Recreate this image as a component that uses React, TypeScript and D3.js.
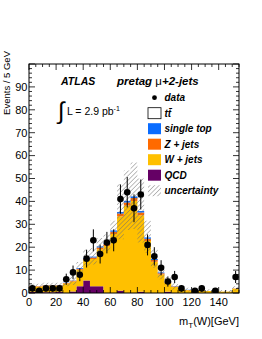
import React, { useEffect, useRef } from "react";
import * as d3 from "d3";

// bin lower edges (5 GeV bins)
const binLow = [
  0, 5, 10, 15, 20, 25, 30, 35, 40, 45, 50, 55, 60, 65, 70, 75, 80, 85, 90, 95,
  100, 105, 110, 115, 120, 125, 130, 135, 140, 145, 150,
];
const dataCounts = [
  2, 1, 2, 2, 2, 6, 9, 8, 15, 23, 17, 22, 23, 41, 44, 37, 43, 21, 16, 11, 5, 7,
  2, 0, 1, 2, 0, 1, 0, 0, 7,
];
const qcd = [
  0.5, 0.5, 0.3, 0.3, 0.5, 0, 0.7, 3, 5.5, 3, 3, 0, 0, 1, 0, 0, 0.5, 0, 0, 0,
  0.5, 0, 0, 0, 0, 0, 0, 0, 0, 0, 0,
];
const wjets = [
  2.2, 2.2, 2.9, 2.9, 2.7, 4.1, 4.3, 7.1, 8.9, 11.8, 16.1, 20.5, 25.8, 32.5,
  38.2, 40.2, 33.4, 22.7, 13.7, 8.1, 3.9, 2.6, 1.7, 1.2, 0.75, 0.85, 0.9, 0.9,
  0.7, 0.7, 1.9,
];
const zjets = [
  0.2, 0.2, 0.2, 0.2, 0.2, 0.3, 0.3, 0.5, 0.6, 0.7, 0.8, 0.9, 1.0, 1.2, 1.3,
  1.3, 1.2, 1.0, 0.7, 0.5, 0.3, 0.2, 0.1, 0.1, 0.1, 0, 0, 0, 0, 0, 0.1,
];
const singleTop = [
  0.1, 0.1, 0.1, 0.1, 0.1, 0.1, 0.2, 0.3, 0.4, 0.4, 0.5, 0.5, 0.6, 0.7, 0.8,
  0.8, 0.7, 0.6, 0.5, 0.3, 0.2, 0.1, 0.1, 0.1, 0.05, 0.05, 0, 0, 0, 0, 0,
];
const ttbar = [
  0, 0, 0, 0, 0, 0, 0, 0.1, 0.1, 0.1, 0.1, 0.1, 0.1, 0.1, 0.2, 0.2, 0.2, 0.2,
  0.1, 0.1, 0.1, 0.1, 0.1, 0.1, 0.1, 0.1, 0.1, 0.1, 0.1, 0.1, 0,
];
const mcUnc = [
  1, 1, 1, 1, 1, 1.5, 2, 2.5, 3.5, 3.5, 3.5, 3.5, 4, 12, 13, 14.5, 14, 7, 4, 3,
  2, 1.5, 1, 0.8, 0.6, 0.6, 0.6, 0.5, 0.5, 0.5, 1,
];

const xTicks = [0, 20, 40, 60, 80, 100, 120, 140];
const yTicks = [0, 10, 20, 30, 40, 50, 60, 70, 80, 90];

const colors: Record<string, string> = {
  qcd: "#650065",
  wjets: "#ffc000",
  zjets: "#ff6a00",
  singleTop: "#0a6cff",
  ttbar: "#ffffff",
};

const W = 262,
  H = 339;
const plot = { left: 29, right: 239, top: 64, bottom: 293 };
const font = "'Liberation Sans', Arial, Helvetica, sans-serif";

export default function App() {
  const ref = useRef<SVGSVGElement>(null);

  useEffect(() => {
    const svg = d3.select(ref.current);
    svg.selectAll("*").remove();

    const x = d3.scaleLinear().domain([0, 155]).range([plot.left, plot.right]);
    const y = d3.scaleLinear().domain([0, 100]).range([plot.bottom, plot.top]);

    const defs = svg.append("defs");
    const pat = defs
      .append("pattern")
      .attr("id", "hatch")
      .attr("patternUnits", "userSpaceOnUse")
      .attr("width", 3.2)
      .attr("height", 3.2)
      .attr("patternTransform", "rotate(45)");
    pat
      .append("line")
      .attr("x1", 0)
      .attr("y1", 0)
      .attr("x2", 0)
      .attr("y2", 3.2)
      .attr("stroke", "#6e6e6e")
      .attr("stroke-width", 0.9);

    defs
      .append("clipPath")
      .attr("id", "frame")
      .append("rect")
      .attr("x", plot.left)
      .attr("y", plot.top)
      .attr("width", plot.right - plot.left)
      .attr("height", plot.bottom - plot.top);

    const rows = binLow.map((b, i) => ({
      b,
      qcd: qcd[i],
      wjets: wjets[i],
      zjets: zjets[i],
      singleTop: singleTop[i],
      ttbar: ttbar[i],
    }));
    // extra point closing the last bin for step curves
    const rowsEnd = [...rows, { ...rows[rows.length - 1], b: 155 }];

    const keys = ["qcd", "wjets", "zjets", "singleTop", "ttbar"];
    const stack = d3.stack<any>().keys(keys)(rowsEnd);

    const g = svg.append("g").attr("clip-path", "url(#frame)");

    const area = d3
      .area<any>()
      .curve(d3.curveStepAfter)
      .x((d) => x(d.data.b))
      .y0((d) => y(d[0]))
      .y1((d) => y(d[1]));

    g.selectAll("path.layer")
      .data(stack)
      .enter()
      .append("path")
      .attr("class", "layer")
      .attr("d", area as any)
      .attr("fill", (d) => colors[d.key]);

    // uncertainty band
    const totals = stack[stack.length - 1].map((d, i) => ({
      b: d.data.b,
      t: d[1],
      u: mcUnc[Math.min(i, mcUnc.length - 1)],
    }));
    g.append("path")
      .attr(
        "d",
        d3
          .area<any>()
          .curve(d3.curveStepAfter)
          .x((d) => x(d.b))
          .y0((d) => y(Math.max(0, d.t - d.u)))
          .y1((d) => y(d.t + d.u))(totals) as string
      )
      .attr("fill", "url(#hatch)");

    // data points
    const pts = binLow
      .map((b, i) => ({ c: b + 2.5, n: dataCounts[i] }))
      .filter((d) => d.n > 0);
    g.selectAll("line.err")
      .data(pts)
      .enter()
      .append("line")
      .attr("x1", (d) => x(d.c))
      .attr("x2", (d) => x(d.c))
      .attr("y1", (d) => y(d.n - Math.sqrt(d.n)))
      .attr("y2", (d) => y(d.n + Math.sqrt(d.n)))
      .attr("stroke", "#000")
      .attr("stroke-width", 1);
    g.selectAll("circle.pt")
      .data(pts)
      .enter()
      .append("circle")
      .attr("cx", (d) => x(d.c))
      .attr("cy", (d) => y(d.n))
      .attr("r", 3.3)
      .attr("fill", "#000");

    // frame
    svg
      .append("rect")
      .attr("x", plot.left)
      .attr("y", plot.top)
      .attr("width", plot.right - plot.left)
      .attr("height", plot.bottom - plot.top)
      .attr("fill", "none")
      .attr("stroke", "#000")
      .attr("stroke-width", 1);

    // ticks on all four sides
    const tg = svg.append("g").attr("stroke", "#000").attr("stroke-width", 0.8);
    d3.range(0, 101, 2).forEach((v) => {
      const len = v % 10 === 0 ? 6 : 3;
      const yy = y(v);
      tg.append("line").attr("x1", plot.left).attr("x2", plot.left + len).attr("y1", yy).attr("y2", yy);
      tg.append("line").attr("x1", plot.right).attr("x2", plot.right - len).attr("y1", yy).attr("y2", yy);
    });
    d3.range(0, 156, 5).forEach((v) => {
      const len = v % 20 === 0 ? 6 : 3;
      const xx = x(v);
      tg.append("line").attr("x1", xx).attr("x2", xx).attr("y1", plot.bottom).attr("y2", plot.bottom - len);
      tg.append("line").attr("x1", xx).attr("x2", xx).attr("y1", plot.top).attr("y2", plot.top + len);
    });

    const txt = svg.append("g").attr("font-family", font).attr("fill", "#000");
    yTicks.forEach((v) => {
      txt
        .append("text")
        .attr("x", plot.left - 1.5)
        .attr("y", y(v) + 3.8)
        .attr("text-anchor", "end")
        .attr("font-size", 11)
        .text(v);
    });
    xTicks.forEach((v) => {
      txt
        .append("text")
        .attr("x", x(v))
        .attr("y", 306)
        .attr("text-anchor", "middle")
        .attr("font-size", 11)
        .text(v);
    });

    // axis titles
    const xt = txt
      .append("text")
      .attr("x", plot.right)
      .attr("y", 325)
      .attr("text-anchor", "end")
      .attr("font-size", 11);
    xt.append("tspan").text("m");
    xt.append("tspan").attr("font-size", 8).attr("dy", 3).text("T");
    xt.append("tspan").attr("dy", -3).text("(W)[GeV]");

    txt
      .append("text")
      .attr("transform", `translate(9.5,51) rotate(-90)`)
      .attr("text-anchor", "end")
      .attr("font-size", 9.5)
      .text("Events / 5 GeV");

    // labels
    txt
      .append("text")
      .attr("x", 61)
      .attr("y", 85)
      .attr("font-size", 10.5)
      .attr("font-weight", "bold")
      .attr("font-style", "italic")
      .text("ATLAS");
    const pre = txt
      .append("text")
      .attr("x", 117)
      .attr("y", 85)
      .attr("font-size", 11.5)
      .attr("font-weight", "bold")
      .attr("font-style", "italic");
    pre.append("tspan").text("pretag ");
    pre.append("tspan").attr("font-weight", "normal").attr("font-style", "normal").text("\u03bc");
    pre.append("tspan").text("+2-jets");

    txt
      .append("text")
      .attr("x", 58)
      .attr("y", 119)
      .attr("font-size", 24)
      .attr("font-family", "'DejaVu Sans', sans-serif")
      .attr("font-weight", "200")
      .text("\u222b");
    const lum = txt.append("text").attr("x", 67).attr("y", 115).attr("font-size", 10.5);
    lum.append("tspan").text("L = 2.9 pb");
    lum.append("tspan").attr("font-size", 7).attr("dy", -4).text("-1");

    // legend
    const legend = [
      { label: "data", type: "data" },
      { label: "tt\u0304", type: "box", fill: "#fff" },
      { label: "single top", type: "box", fill: colors.singleTop },
      { label: "Z + jets", type: "box", fill: colors.zjets },
      { label: "W + jets", type: "box", fill: colors.wjets },
      { label: "QCD", type: "box", fill: colors.qcd },
      { label: "uncertainty", type: "hatch" },
    ];
    legend.forEach((e, i) => {
      const cy = 97.7 + i * 15.5;
      if (e.type === "data") {
        svg.append("circle").attr("cx", 154.5).attr("cy", cy).attr("r", 2.4).attr("fill", "#000");
      } else {
        svg
          .append("rect")
          .attr("x", 148)
          .attr("y", cy - 5.5)
          .attr("width", 13)
          .attr("height", 11)
          .attr("fill", e.type === "hatch" ? "url(#hatch)" : e.fill)
          .attr("stroke", e.type === "box" && e.fill === "#fff" ? "#000" : "none")
          .attr("stroke-width", 0.8);
      }
      txt
        .append("text")
        .attr("x", 164.5)
        .attr("y", cy + 3.6)
        .attr("font-size", 10)
        .attr("font-weight", "bold")
        .attr("font-style", "italic")
        .text(e.label);
    });
  }, []);

  return (
    <svg
      ref={ref}
      width={W}
      height={H}
      style={{ position: "absolute", left: 0, top: 0, background: "#fff" }}
    />
  );
}
